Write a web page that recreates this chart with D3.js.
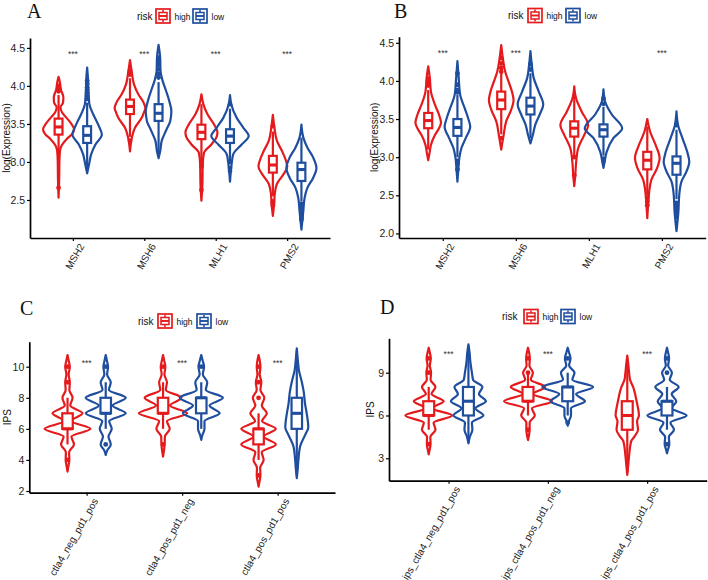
<!DOCTYPE html>
<html><head><meta charset="utf-8">
<script src="https://cdn.jsdelivr.net/npm/d3@7"></script>
<style>
body{margin:0;background:#fff}
svg{display:block}
text{font-family:"Liberation Sans",Arial,Helvetica,sans-serif}
</style>
</head><body>
<svg id="chart" width="708" height="580"></svg>
<script>
// ---------------- DATA ----------------
const riskGroups = ["high", "low"];
const riskColors = ["#E41A1C", "#1F4E9E"];

// Panel A
const catsA = ["MSH2", "MSH6", "MLH1", "PMS2"];
const ticksA = [2.5, 3.0, 3.5, 4.0, 4.5];
const sigA = ["***", "***", "***", "***"];
// violin profiles: [value, relative density]
const violinA_high = [
  [[4.12,0],[4.05,0.08],[3.95,0.15],[3.85,0.3],[3.78,0.28],[3.72,0.12],[3.65,0.22],[3.58,0.5],[3.50,0.8],[3.43,0.97],[3.37,0.85],[3.30,0.5],[3.22,0.2],[3.15,0.09],[3.0,0.05],[2.8,0.04],[2.53,0]],
  [[4.34,0],[4.20,0.1],[4.02,0.25],[3.89,0.52],[3.78,0.85],[3.71,0.96],[3.64,0.85],[3.58,0.73],[3.45,0.31],[3.32,0.12],[3.14,0]],
  [[3.89,0],[3.76,0.12],[3.63,0.37],[3.49,0.8],[3.39,1.0],[3.33,0.95],[3.23,0.62],[3.12,0.16],[2.97,0.08],[2.71,0.06],[2.49,0]],
  [[3.62,0],[3.45,0.1],[3.28,0.25],[3.14,0.58],[3.01,0.83],[2.94,0.9],[2.84,0.67],[2.71,0.25],[2.58,0.12],[2.45,0.08],[2.29,0]]
];
const violinA_low = [
  [[4.24,0],[4.1,0.05],[3.98,0.07],[3.86,0.1],[3.76,0.14],[3.63,0.37],[3.49,0.69],[3.36,0.92],[3.23,0.52],[3.10,0.25],[2.97,0.12],[2.85,0]],
  [[4.54,0],[4.37,0.1],[4.20,0.12],[4.07,0.25],[3.94,0.46],[3.80,0.67],[3.67,0.8],[3.54,0.73],[3.41,0.46],[3.28,0.2],[3.14,0.1],[3.05,0]],
  [[3.88,0],[3.76,0.08],[3.58,0.42],[3.45,0.83],[3.34,1.17],[3.23,0.73],[3.10,0.2],[2.97,0.1],[2.74,0]],
  [[3.49,0],[3.32,0.12],[3.19,0.37],[3.06,0.73],[2.92,0.94],[2.79,0.73],[2.66,0.37],[2.53,0.2],[2.36,0.12],[2.11,0]]
];
// box stats: [lower whisker, q1, median, q3, upper whisker]
const boxA_high = [[3.05,3.36,3.46,3.57,3.88],[3.33,3.63,3.73,3.82,4.10],[3.02,3.30,3.39,3.49,3.76],[2.55,2.86,2.96,3.08,3.40]];
const boxA_low  = [[2.88,3.25,3.35,3.47,3.78],[3.10,3.54,3.64,3.76,4.05],[2.97,3.25,3.34,3.43,3.70],[2.48,2.75,2.90,2.99,3.32]];
const outA_high = [[4.0,3.97,3.93,2.66],[4.20,4.15,3.28],[3.0,2.97,2.94,2.63],[3.47,2.48,2.46,2.43]];
const outA_low  = [[4.07,4.03,3.98,3.95,3.91,3.87,3.83],[4.37,4.33,4.28,4.22,4.16,4.11],[3.76,2.92,2.88],[2.45,2.40,2.35,2.31,2.27,2.24]];

// Panel B
const catsB = ["MSH2", "MSH6", "MLH1", "PMS2"];
const ticksB = [2.0, 2.5, 3.0, 3.5, 4.0, 4.5];
const sigB = ["***", "***", "", "***"];
const violinB_high = [
  [[4.19,0],[4.04,0.1],[3.86,0.17],[3.69,0.42],[3.56,0.67],[3.45,0.8],[3.37,0.65],[3.29,0.42],[3.16,0.17],[3.05,0.08],[2.96,0]],
  [[4.47,0],[4.30,0.1],[4.12,0.25],[3.99,0.46],[3.86,0.67],[3.75,0.77],[3.62,0.62],[3.47,0.31],[3.29,0.15],[3.10,0]],
  [[3.93,0],[3.78,0.1],[3.60,0.46],[3.42,0.87],[3.29,0.62],[3.12,0.25],[2.94,0.12],[2.75,0.06],[2.62,0]],
  [[3.50,0],[3.34,0.17],[3.16,0.52],[2.99,0.77],[2.86,0.62],[2.70,0.25],[2.55,0.12],[2.40,0.06],[2.20,0]]
];
const violinB_low = [
  [[4.26,0],[4.04,0.08],[3.82,0.17],[3.64,0.46],[3.51,0.67],[3.40,0.8],[3.25,0.52],[3.12,0.25],[2.99,0.12],[2.85,0.06],[2.68,0]],
  [[4.39,0],[4.22,0.08],[4.04,0.2],[3.86,0.52],[3.69,0.8],[3.56,0.58],[3.43,0.31],[3.29,0.15],[3.18,0]],
  [[3.89,0],[3.73,0.1],[3.56,0.52],[3.38,1.17],[3.25,0.62],[3.07,0.2],[2.95,0.08],[2.86,0]],
  [[3.60,0],[3.42,0.1],[3.25,0.37],[3.07,0.67],[2.94,0.8],[2.81,0.62],[2.68,0.31],[2.50,0.17],[2.29,0.12],[2.03,0]]
];
const boxB_high = [[3.10,3.38,3.48,3.58,3.88],[3.30,3.63,3.75,3.86,4.20],[2.98,3.27,3.38,3.47,3.76],[2.50,2.84,2.96,3.07,3.40]];
const boxB_low  = [[3.0,3.28,3.39,3.50,3.82],[3.25,3.56,3.67,3.78,4.10],[3.02,3.27,3.36,3.43,3.66],[2.45,2.77,2.92,3.01,3.36]];
const outB_high = [[4.03,3.98,3.94],[4.30,4.23,4.17,4.12,3.25],[3.79,3.0,2.76],[2.47,2.42,2.37]];
const outB_low  = [[4.10,3.95,3.88,3.85,2.95,2.92,2.84],[4.22,4.15],[3.77,3.70,2.98,2.95],[3.42,2.40,2.35,2.30,2.26,2.22]];

// Panel C
const catsC = ["ctla4_neg_pd1_pos", "ctla4_pos_pd1_neg", "ctla4_pos_pd1_pos"];
const ticksC = [2, 4, 6, 8, 10];
const sigC = ["***", "***", "***"];
const violinC_high = [
  [[10.75,0],[10.4,0.05],[10.0,0.1],[9.5,0.05],[9.0,0.1],[8.5,0.08],[8.0,0.22],[7.5,0.12],[7.0,0.65],[6.5,0.15],[6.0,1.0],[5.5,0.17],[5.0,0.28],[4.5,0.07],[4.0,0.08],[3.6,0.04],[3.25,0]],
  [[10.75,0],[10.4,0.05],[10.0,0.1],[9.5,0.06],[9.0,0.17],[8.5,0.12],[8.0,0.8],[7.5,0.3],[7.0,1.05],[6.5,0.17],[6.0,0.29],[5.5,0.08],[5.0,0.07],[4.6,0.04],[4.21,0]],
  [[10.75,0],[10.4,0.05],[10.0,0.08],[9.5,0.05],[9.0,0.12],[8.5,0.08],[8.0,0.25],[7.5,0.14],[7.0,0.36],[6.5,0.15],[6.0,0.75],[5.5,0.22],[5.0,0.75],[4.5,0.14],[4.0,0.22],[3.5,0.07],[3.0,0.08],[2.6,0.04],[2.28,0]]
];
const violinC_low = [
  [[10.75,0],[10.4,0.05],[10.0,0.1],[9.5,0.06],[9.0,0.22],[8.5,0.14],[8.0,0.87],[7.5,0.3],[7.0,0.87],[6.5,0.15],[6.0,0.26],[5.5,0.12],[5.0,0.22],[4.6,0.06],[4.32,0]],
  [[10.75,0],[10.4,0.06],[10.0,0.12],[9.5,0.07],[9.0,0.26],[8.5,0.2],[8.0,0.94],[7.5,0.36],[7.0,0.8],[6.5,0.14],[6.0,0.14],[5.6,0.05],[5.29,0]],
  [[11.18,0],[10.5,0.04],[9.8,0.09],[9.0,0.22],[8.4,0.3],[7.6,0.36],[7.0,0.43],[6.1,0.5],[5.6,0.36],[4.9,0.15],[4.0,0.07],[3.4,0.04],[2.82,0]]
];
const boxC_high = [[5,6,6,7,8],[6,7,7,8,9],[4,5,6,6,7]];
const boxC_low  = [[6,7,7,8,9],[6,7,8,8,9],[3,6,7,8,11]];
const outC_high = [[10,9,4],[10,5],[10,9,8,3]];
const outC_low  = [[10,5],[10],[]];

// Panel D
const catsD = ["ips_ctla4_neg_pd1_pos", "ips_ctla4_pos_pd1_neg", "ips_ctla4_pos_pd1_pos"];
const ticksD = [3, 6, 9];
const sigD = ["***", "***", "***"];
const violinD_high = [
  [[10.75,0],[10.4,0.05],[10.0,0.09],[9.5,0.05],[9.0,0.1],[8.5,0.08],[8.0,0.29],[7.5,0.12],[7.0,0.64],[6.5,0.14],[6.0,1.0],[5.5,0.21],[5.0,0.29],[4.5,0.07],[4.0,0.08],[3.6,0.04],[3.28,0]],
  [[10.75,0],[10.4,0.05],[10.0,0.08],[9.5,0.06],[9.0,0.21],[8.5,0.12],[8.0,0.74],[7.5,0.21],[7.0,1.03],[6.5,0.17],[6.0,0.29],[5.5,0.07],[5.0,0.07],[4.6,0.04],[4.28,0]],
  [[10.19,0],[9.5,0.05],[9.0,0.08],[8.5,0.12],[8.0,0.25],[7.0,0.4],[6.0,0.5],[5.6,0.42],[5.0,0.46],[4.5,0.3],[4.2,0.17],[3.2,0.08],[2.5,0.04],[1.83,0]]
];
const violinD_low = [
  [[10.99,0],[10.4,0.05],[9.8,0.08],[9.0,0.15],[8.5,0.2],[8.0,0.6],[7.5,0.45],[7.0,0.75],[6.5,0.3],[6.0,0.64],[5.5,0.15],[5.0,0.17],[4.5,0.06],[4.05,0]],
  [[10.75,0],[10.4,0.06],[10.0,0.12],[9.5,0.06],[9.0,0.29],[8.5,0.2],[8.0,1.09],[7.5,0.36],[7.0,0.74],[6.5,0.14],[6.0,0.14],[5.6,0.05],[5.29,0]],
  [[10.75,0],[10.4,0.05],[10.0,0.09],[9.5,0.05],[9.0,0.21],[8.5,0.12],[8.0,0.5],[7.5,0.2],[7.0,0.4],[6.5,0.2],[6.0,0.84],[5.5,0.15],[5.0,0.3],[4.5,0.08],[4.0,0.1],[3.6,0.04],[3.35,0]]
];
const boxD_high = [[5,6,6,7,8],[6,7,7,8,9],[2,5,6,7,10]];
const boxD_low  = [[4.1,6,7,8,10.9],[6,7,8,8,9],[5,6,7,7,8]];
const outD_high = [[10,9,4],[10,9,5],[]];
const outD_low  = [[],[10,5.5],[10,9,4]];

// ---------------- LAYOUT ----------------
const panels = [
  {letter:"A", cats:catsA, ticks:ticksA, fmt:d3.format(".1f"), sig:sigA, title:"log(Expression)",
   violins:[violinA_high, violinA_low], boxes:[boxA_high, boxA_low], outs:[outA_high, outA_low],
   yDomain:[2.0, 4.63], sigY:4.44,
   left:30, right:330, top:38, bottom:238, unitHalf:0.224, titleX:6, letterX:27, letterY:17.8,
   legX:137, key1:156, key2:193, legY:9},
  {letter:"B", cats:catsB, ticks:ticksB, fmt:d3.format(".1f"), sig:sigB, title:"log(Expression)",
   violins:[violinB_high, violinB_low], boxes:[boxB_high, boxB_low], outs:[outB_high, outB_low],
   yDomain:[1.94, 4.58], sigY:4.38,
   left:399, right:705.7, top:36.7, bottom:238, unitHalf:0.219, titleX:374, letterX:394, letterY:17.8,
   legX:508, key1:528, key2:566, legY:8.5},
  {letter:"C", cats:catsC, ticks:ticksC, fmt:d3.format("d"), sig:sigC, title:"IPS",
   violins:[violinC_high, violinC_low], boxes:[boxC_high, boxC_low], outs:[outC_high, outC_low],
   yDomain:[1.89, 11.61], sigY:10.32,
   left:29.3, right:335, top:341.7, bottom:492.7, unitHalf:0.241, titleX:7, letterX:20, letterY:315,
   legX:138, key1:158, key2:197, legY:314},
  {letter:"D", cats:catsD, ticks:ticksD, fmt:d3.format("d"), sig:sigD, title:"IPS",
   violins:[violinD_high, violinD_low], boxes:[boxD_high, boxD_low], outs:[outD_high, outD_low],
   yDomain:[1.43, 11.41], sigY:10.4,
   left:389, right:706.7, top:338.3, bottom:480.7, unitHalf:0.235, titleX:370, letterX:380, letterY:314,
   legX:502, key1:524, key2:561, legY:309.5}
];

const svg = d3.select("#chart");
const SW = 2.2;
const dodge = 0.2, boxHalf = 0.055;

panels.forEach(p => {
  const g = svg.append("g");
  const n = p.cats.length;
  const x = d3.scaleLinear().domain([0.4, n + 0.6]).range([p.left, p.right]);
  const y = d3.scaleLinear().domain(p.yDomain).range([p.bottom, p.top]);
  const pxPerUnit = x(1) - x(0);

  // violins
  riskGroups.forEach((grp, j) => {
    const col = riskColors[j];
    p.violins[j].forEach((prof, i) => {
      const cx = x(i + 1 + (j === 0 ? -dodge : dodge));
      const w = p.unitHalf * pxPerUnit;
      const area = d3.area().curve(d3.curveMonotoneY)
        .y(d => y(d[0])).x0(d => cx - d[1] * w).x1(d => cx + d[1] * w);
      const pts = prof.slice().sort((a, b) => b[0] - a[0]);
      g.append("path").attr("d", area(pts))
        .attr("fill", "none").attr("stroke", col).attr("stroke-width", SW)
        .attr("stroke-linejoin", "round");
    });
  });

  // boxplots
  riskGroups.forEach((grp, j) => {
    const col = riskColors[j];
    p.boxes[j].forEach((b, i) => {
      const c = i + 1 + (j === 0 ? -dodge : dodge);
      const cx = x(c);
      const bx0 = x(c - boxHalf), bx1 = x(c + boxHalf);
      g.append("line").attr("x1", cx).attr("x2", cx).attr("y1", y(b[3])).attr("y2", y(b[4]))
        .attr("stroke", col).attr("stroke-width", SW);
      g.append("line").attr("x1", cx).attr("x2", cx).attr("y1", y(b[1])).attr("y2", y(b[0]))
        .attr("stroke", col).attr("stroke-width", SW);
      g.append("rect").attr("x", bx0).attr("width", bx1 - bx0)
        .attr("y", y(b[3])).attr("height", Math.max(0.5, y(b[1]) - y(b[3])))
        .attr("fill", "#fff").attr("stroke", col).attr("stroke-width", SW);
      g.append("line").attr("x1", bx0).attr("x2", bx1).attr("y1", y(b[2])).attr("y2", y(b[2]))
        .attr("stroke", col).attr("stroke-width", SW * 1.4);
      p.outs[j][i].forEach(v => {
        g.append("circle").attr("cx", cx).attr("cy", y(v)).attr("r", 2.4).attr("fill", col);
      });
    });
  });

  // significance labels
  p.sig.forEach((s, i) => {
    if (!s) return;
    g.append("text").attr("x", x(i + 1)).attr("y", y(p.sigY) + 4.5)
      .attr("text-anchor", "middle").attr("font-size", 8.5).attr("fill", "#333").text(s);
  });

  // axes
  const yAxis = d3.axisLeft(y).tickValues(p.ticks).tickFormat(p.fmt).tickSizeInner(3).tickSizeOuter(0).tickPadding(2);
  const ya = g.append("g").attr("transform", `translate(${p.left},0)`).call(yAxis);
  ya.select(".domain").attr("stroke", "#000").attr("stroke-width", 1.7);
  ya.selectAll(".tick line").attr("stroke", "#000").attr("stroke-width", 1.2);
  ya.selectAll(".tick text").attr("font-size", 10.5).attr("fill", "#222");

  const xAxis = d3.axisBottom(x).tickValues(d3.range(1, n + 1)).tickFormat(d => p.cats[d - 1])
    .tickSizeInner(3).tickSizeOuter(0);
  const xa = g.append("g").attr("transform", `translate(0,${p.bottom})`).call(xAxis);
  xa.select(".domain").attr("stroke", "#000").attr("stroke-width", 1.7);
  xa.selectAll(".tick line").attr("stroke", "#000").attr("stroke-width", 1.2);
  xa.selectAll(".tick text").attr("font-size", 10).attr("fill", "#222")
    .attr("text-anchor", "end").attr("x", 0).attr("y", 0).attr("dy", "0.75em")
    .attr("transform", "translate(5,4.5) rotate(-60)");

  // y title
  g.append("text").attr("transform", `translate(${p.titleX},${(p.top + p.bottom) / 2}) rotate(-90)`)
    .attr("text-anchor", "middle").attr("dy", "0.35em").attr("font-size", 10).attr("fill", "#111")
    .text(p.title);

  // panel letter
  g.append("text").attr("x", p.letterX).attr("y", p.letterY)
    .style("font-family", '"Liberation Serif","Times New Roman",serif').attr("font-size", 20)
    .attr("fill", "#111").text(p.letter);

  // legend
  g.append("text").attr("x", p.legX).attr("y", p.legY + 10.5).attr("font-size", 10).attr("fill", "#111").text("risk");
  [p.key1, p.key2].forEach((kx, j) => {
    const col = riskColors[j], ky = p.legY;
    const k = g.append("g");
    k.append("rect").attr("x", kx).attr("y", ky).attr("width", 14).attr("height", 14)
      .attr("fill", "#fff").attr("stroke", col).attr("stroke-width", 1.7);
    k.append("line").attr("x1", kx + 7).attr("x2", kx + 7).attr("y1", ky + 1).attr("y2", ky + 13)
      .attr("stroke", col).attr("stroke-width", 1.5);
    k.append("rect").attr("x", kx + 3).attr("y", ky + 3.5).attr("width", 8).attr("height", 7)
      .attr("fill", "#fff").attr("stroke", col).attr("stroke-width", 1.5);
    k.append("line").attr("x1", kx + 3).attr("x2", kx + 11).attr("y1", ky + 7).attr("y2", ky + 7)
      .attr("stroke", col).attr("stroke-width", 1.9);
    g.append("text").attr("x", kx + 18.5).attr("y", ky + 10.5).attr("font-size", 8.5).attr("fill", "#111")
      .text(riskGroups[j]);
  });
});
</script>
</body></html>
